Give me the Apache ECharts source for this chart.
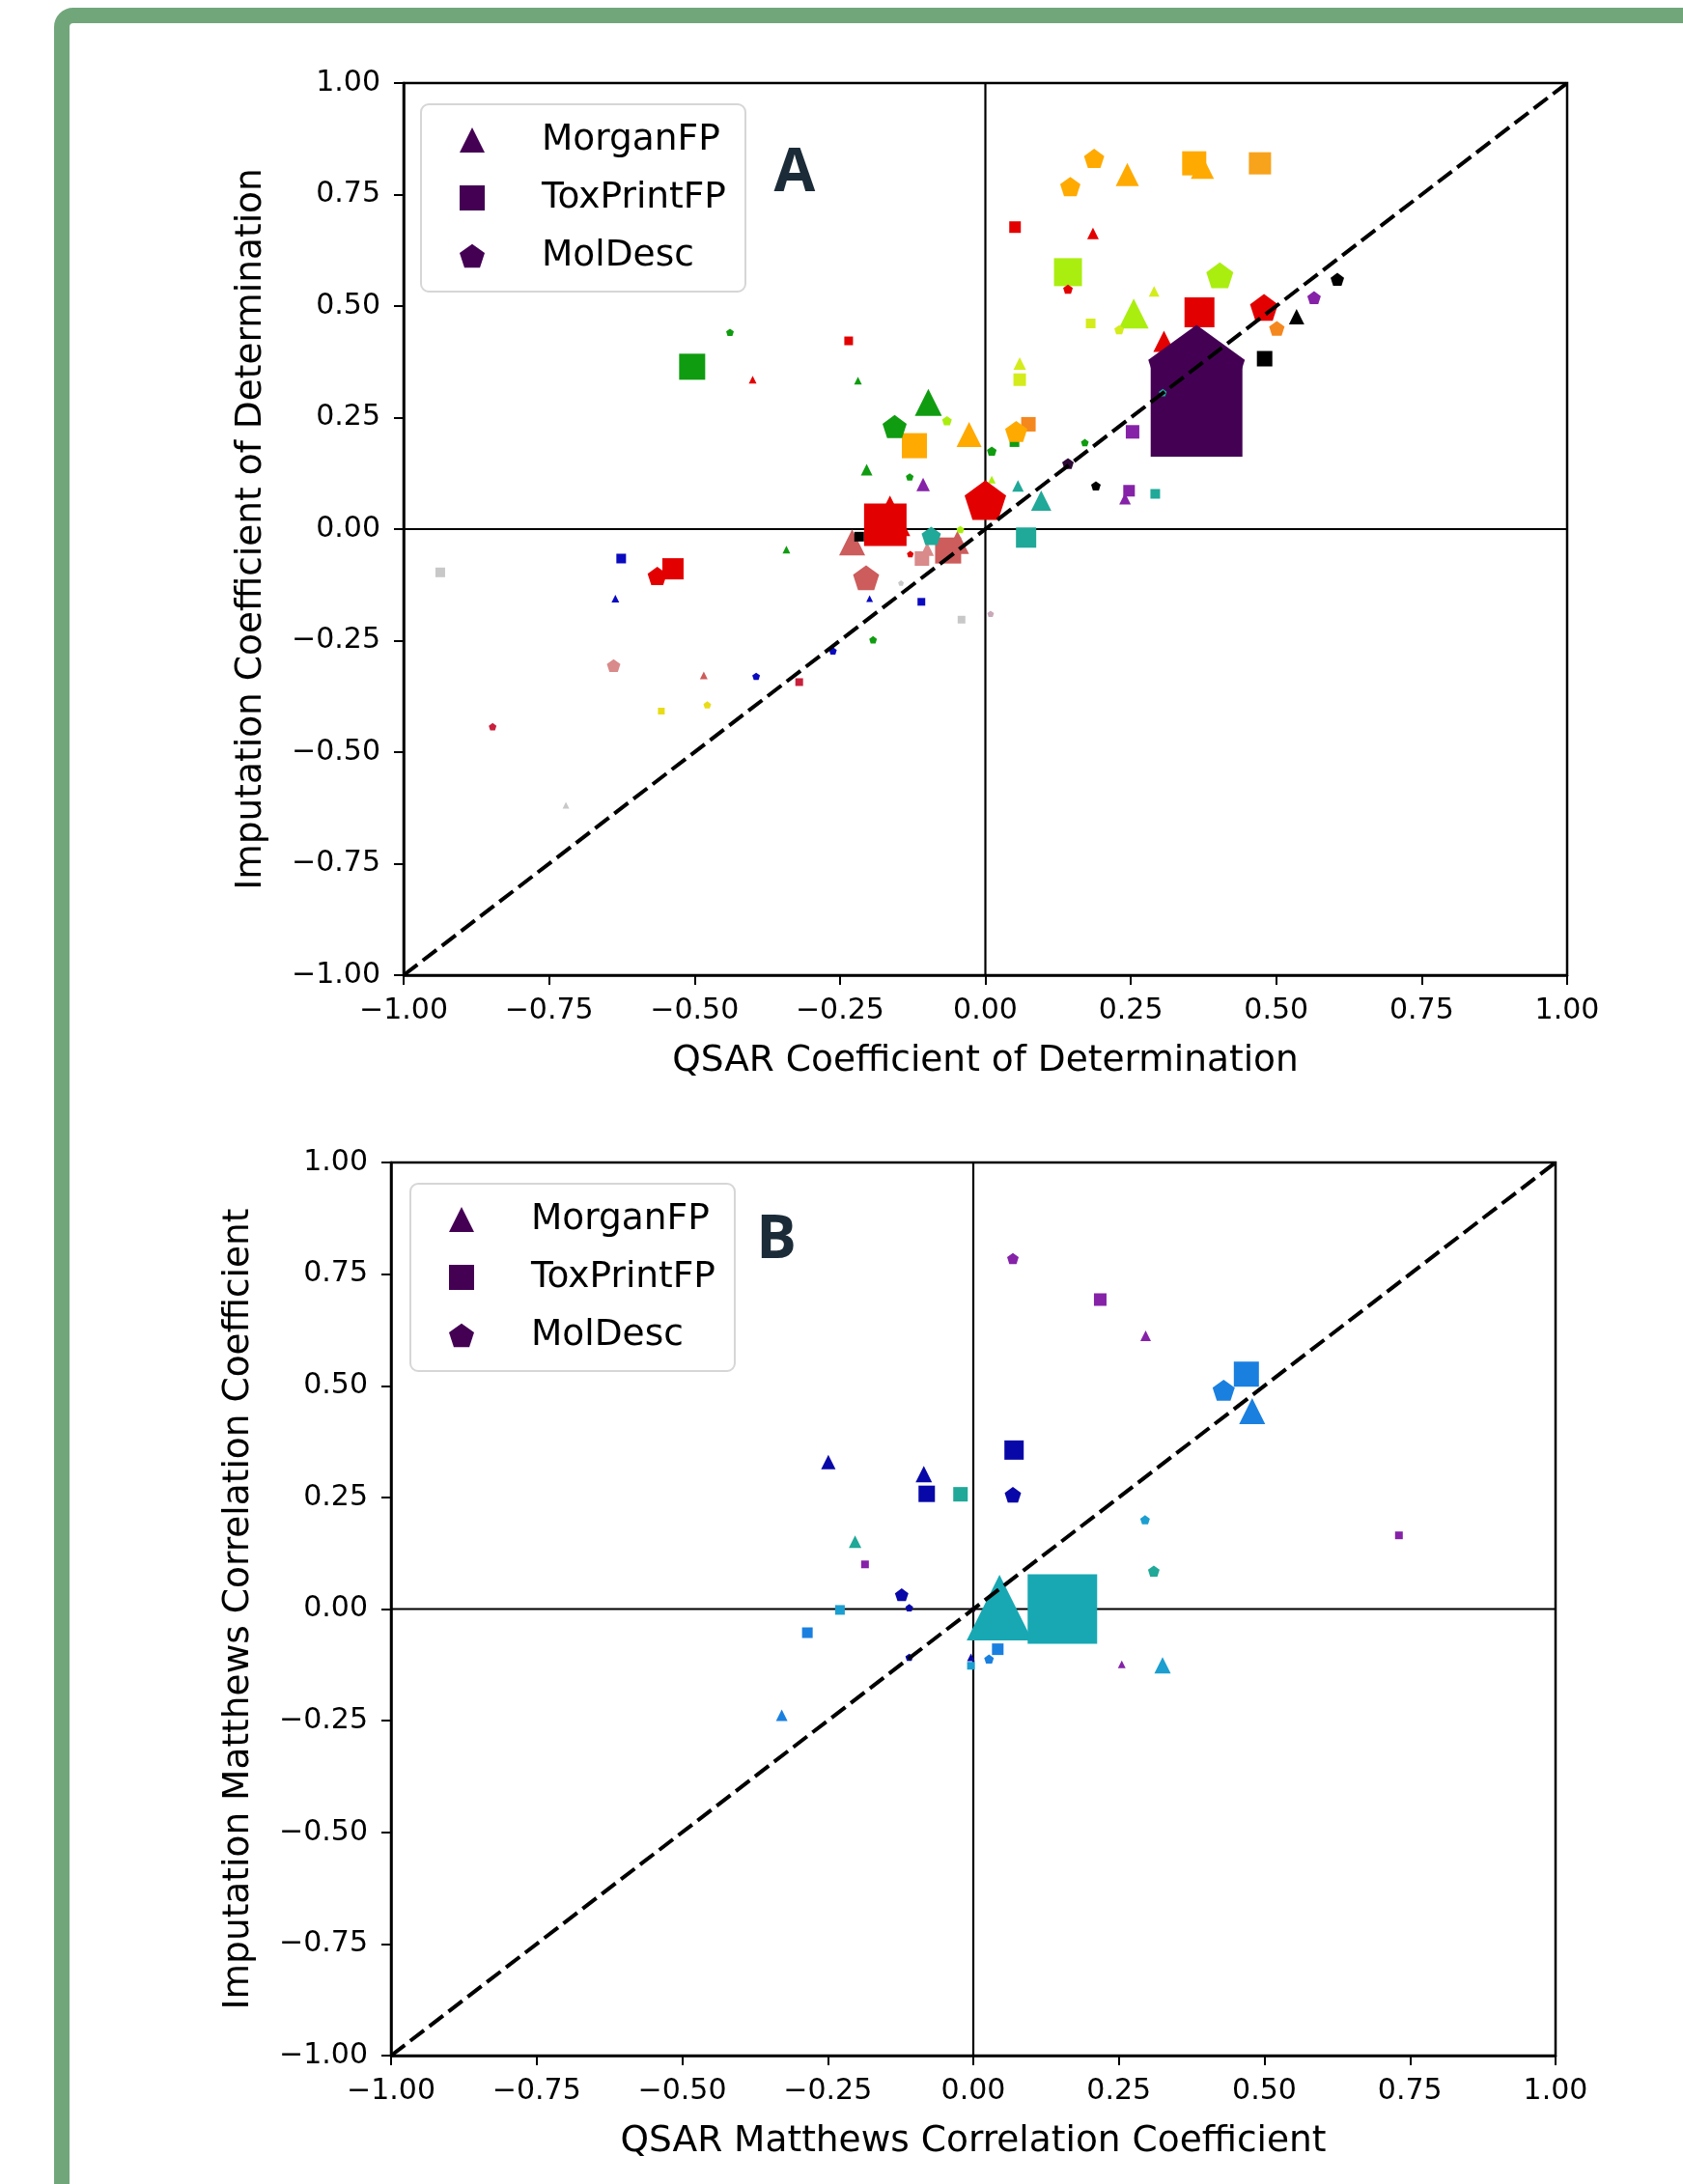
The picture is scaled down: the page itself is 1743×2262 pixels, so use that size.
<!DOCTYPE html>
<html><head><meta charset="utf-8">
<script src="https://cdn.jsdelivr.net/npm/echarts@6/dist/echarts.min.js"></script>
<style>html,body{margin:0;padding:0;background:#fff}#c{width:1743px;height:2262px}</style>
</head><body><div id="c"></div>
<script>
// ---------- data ----------
const tickValues = [-1, -0.75, -0.5, -0.25, 0, 0.25, 0.5, 0.75, 1];
const tickLabels = ['\u22121.00', '\u22120.75', '\u22120.50', '\u22120.25', '0.00', '0.25', '0.50', '0.75', '1.00'];
const legendNames = ['MorganFP', 'ToxPrintFP', 'MolDesc'];
const panelLetters = ['A', 'B'];
const xTitles = ['QSAR Coefficient of Determination', 'QSAR Matthews Correlation Coefficient'];
const yTitles = ['Imputation Coefficient of Determination', 'Imputation Matthews Correlation Coefficient'];

// [QSAR value, imputation value, marker weight, category]
const A_MorganFP = [
  [-0.400, 0.335, 8, 'red'], [-0.219, 0.333, 8, 'green'], [-0.098, 0.284, 28, 'green'],
  [-0.028, 0.212, 26, 'orange'], [-0.204, 0.133, 12, 'green'], [-0.107, 0.100, 14, 'purple'],
  [-0.164, 0.030, 42, 'red'], [-0.229, -0.030, 27, 'indianred'], [-0.048, -0.030, 24, 'indianred'],
  [-0.100, -0.045, 14, 'lightcoral'],
  [0.059, 0.371, 13, 'yellowlime'], [0.056, 0.097, 12, 'teal'], [0.096, 0.064, 21, 'teal'],
  [0.011, 0.111, 8, 'lime'], [0.244, 0.795, 24, 'orange'], [0.373, 0.811, 24, 'orange'],
  [0.185, 0.663, 12, 'red'], [0.290, 0.533, 11, 'yellowlime'], [0.255, 0.483, 31, 'lime'],
  [0.535, 0.476, 16, 'black'], [0.307, 0.421, 22, 'red'], [0.240, 0.068, 12, 'purple'],
  [-0.636, -0.156, 8, 'blue'], [-0.484, -0.328, 8, 'indianred'], [-0.342, -0.046, 8, 'green'],
  [-0.199, -0.156, 7, 'blue'], [-0.721, -0.619, 7, 'lightgray']
];
const A_ToxPrintFP = [
  [-0.235, 0.422, 9, 'red'], [-0.504, 0.364, 27, 'green'], [-0.122, 0.187, 26, 'orange'],
  [-0.172, 0.010, 44, 'red'], [-0.217, -0.017, 10, 'black'], [-0.064, -0.048, 27, 'indianred'],
  [-0.109, -0.066, 15, 'lightcoral'], [-0.110, -0.163, 8, 'blue'], [-0.041, -0.203, 8, 'lightgray'],
  [0.059, 0.335, 13, 'yellowlime'], [0.074, 0.235, 15, 'darkorange'], [0.050, 0.195, 10, 'green'],
  [0.070, -0.019, 21, 'teal'], [0.359, 0.820, 25, 'orange'], [0.472, 0.820, 23, 'orange2'],
  [0.051, 0.677, 12, 'red'], [0.142, 0.576, 29, 'lime'], [0.368, 0.486, 31, 'red'],
  [0.181, 0.461, 10, 'yellowlime'], [0.480, 0.382, 16, 'black'], [0.363, 0.265, 95, 'darkpurple'],
  [0.253, 0.218, 14, 'purple'], [0.247, 0.086, 12, 'purple'], [0.292, 0.079, 10, 'teal'],
  [-0.937, -0.097, 10, 'lightgray'], [-0.626, -0.066, 10, 'blue'], [-0.537, -0.089, 22, 'red'],
  [-0.320, -0.343, 8, 'crimson'], [-0.557, -0.408, 7, 'yellow']
];
const A_MolDesc = [
  [-0.439, 0.441, 8, 'green'], [-0.066, 0.243, 10, 'lime'], [-0.156, 0.230, 25, 'green'],
  [-0.130, 0.117, 8, 'green'], [0.011, 0.175, 10, 'green'], [0.000, 0.065, 43, 'red'],
  [-0.093, -0.015, 20, 'teal'], [-0.043, -0.001, 8, 'lime'], [-0.129, -0.056, 7, 'red'],
  [-0.205, -0.109, 27, 'indianred'], [-0.145, -0.121, 6, 'lightgray'], [0.009, -0.190, 7, 'thistle'],
  [-0.193, -0.248, 8, 'green'], [-0.262, -0.273, 8, 'blue'], [0.053, 0.219, 23, 'orange'],
  [0.171, 0.194, 8, 'green'], [0.142, 0.147, 12, 'darkpurple2'], [0.190, 0.097, 10, 'black'],
  [0.187, 0.831, 21, 'orange'], [0.146, 0.768, 21, 'orange'], [0.142, 0.538, 10, 'red'],
  [0.403, 0.569, 28, 'lime'], [0.605, 0.560, 14, 'black'], [0.565, 0.519, 14, 'purple'],
  [0.479, 0.497, 29, 'red'], [0.230, 0.447, 10, 'yellowlime'], [0.501, 0.450, 16, 'darkorange'],
  [0.363, 0.355, 100, 'darkpurple'], [0.305, 0.306, 8, 'teal'], [-0.564, -0.105, 20, 'red'],
  [-0.639, -0.306, 14, 'lightcoral'], [-0.394, -0.330, 8, 'blue'], [-0.478, -0.394, 8, 'yellow'],
  [-0.847, -0.443, 8, 'crimson']
];
const B_MorganFP = [
  [0.296, 0.612, 11, 'purple'], [0.479, 0.443, 27, 'dodger'], [0.045, 0.003, 68, 'tealcyan'],
  [-0.004, -0.108, 8, 'navy'], [0.255, -0.124, 8, 'purple'], [0.325, -0.126, 17, 'cyan'],
  [-0.249, 0.329, 15, 'navy'], [-0.085, 0.302, 17, 'navy'], [-0.203, 0.151, 13, 'teal'],
  [-0.329, -0.238, 12, 'dodger']
];
const B_ToxPrintFP = [
  [0.218, 0.693, 13, 'purple'], [0.469, 0.526, 26, 'dodger'], [0.070, 0.356, 20, 'navy'],
  [0.731, 0.165, 8, 'purple'], [0.153, 0.000, 72, 'tealcyan'], [0.042, -0.090, 12, 'dodger'],
  [-0.004, -0.127, 8, 'cyan'], [-0.080, 0.258, 17, 'navy'], [-0.022, 0.257, 15, 'teal'],
  [-0.186, 0.100, 8, 'purple'], [-0.229, -0.002, 10, 'cyan'], [-0.285, -0.053, 11, 'dodger']
];
const B_MolDesc = [
  [0.068, 0.785, 12, 'purple'], [0.430, 0.490, 23, 'dodger'], [0.068, 0.256, 17, 'navy'],
  [0.295, 0.200, 10, 'cyan'], [0.310, 0.085, 12, 'teal'], [0.027, -0.112, 10, 'dodger'],
  [-0.123, 0.032, 14, 'navy'], [-0.110, 0.003, 8, 'navy'], [-0.110, -0.108, 8, 'navy'],
  [0.000, 0.000, 6, 'darkpurple']
];
const diagonal = [[-1, -1], [1, 1]];
const zeroH = [[-1, 0], [1, 0]];
const zeroV = [[0, -1], [0, 1]];

// ---------- styles ----------
const palette = {
  red: '#e30000', green: '#109c10', orange: '#ffaa00', orange2: '#f8a31c', darkorange: '#f5871f',
  lime: '#aaee10', yellowlime: '#d4ec1c', yellow: '#e8dc18', teal: '#20a898', indianred: '#cd5c5c',
  lightcoral: '#d98a8a', blue: '#0a0ac0', black: '#000000', purple: '#8522a8', darkpurple: '#440154',
  darkpurple2: '#2e0a36', lightgray: '#c8c8c8', thistle: '#c9a9b9', crimson: '#c8203c',
  dodger: '#1a80e0', navy: '#0808a8', cyan: '#1b9ed0', tealcyan: '#17a8b3'
};
const PENT = 'path://M100,0 L195.1,69.1 L158.8,180.9 L41.2,180.9 L4.9,69.1 Z';
const symbols = ['triangle', 'rect', PENT];
const FONT = 'DejaVu Sans';
const grids = [
  { left: 418, top: 86, width: 1205, height: 924 },
  { left: 405, top: 1204, width: 1206, height: 925 }
];
const legendPos = [{ left: 436, top: 108 }, { left: 425, top: 1226 }];
const letterPos = [[823, 180], [804, 1285]];

function fmt(v) {
  const i = tickValues.findIndex(t => Math.abs(t - v) < 1e-9);
  return i >= 0 ? tickLabels[i] : v.toFixed(2).replace('-', '\u2212');
}

const xAxes = [], yAxes = [], series = [], legends = [], graphics = [];
const panels = [[A_MorganFP, A_ToxPrintFP, A_MolDesc], [B_MorganFP, B_ToxPrintFP, B_MolDesc]];

panels.forEach((sets, g) => {
  const common = {
    type: 'value', gridIndex: g, min: -1, max: 1, interval: 0.25,
    nameLocation: 'middle',
    nameTextStyle: { fontFamily: FONT, fontSize: 37.5, color: '#000' },
    axisLine: { show: true, onZero: false, lineStyle: { color: '#000', width: 2.5 } },
    axisTick: { show: true, inside: false, length: 10, lineStyle: { color: '#000', width: 2 } },
    axisLabel: { fontFamily: FONT, fontSize: 30, color: '#000', formatter: fmt, showMinLabel: true, showMaxLabel: true },
    splitLine: { show: false }
  };
  xAxes.push(Object.assign({}, common, {
    position: 'bottom', name: xTitles[g], nameGap: 70,
    axisLabel: Object.assign({}, common.axisLabel, { margin: 22 })
  }));
  yAxes.push(Object.assign({}, common, {
    position: 'left', name: yTitles[g], nameGap: 139, nameRotate: 90,
    axisLabel: Object.assign({}, common.axisLabel, { margin: 24 })
  }));
  [zeroH, zeroV].forEach(d => series.push({
    type: 'line', xAxisIndex: g, yAxisIndex: g, data: d, symbol: 'none', silent: true, z: 1,
    lineStyle: { color: '#000', width: 2.2 }
  }));
  sets.forEach((arr, k) => series.push({
    name: legendNames[k], type: 'scatter', xAxisIndex: g, yAxisIndex: g,
    symbol: symbols[k], symbolKeepAspect: true, silent: true, z: 2,
    itemStyle: { color: '#440154', opacity: 1 },
    data: arr.map(d => ({ value: [d[0], d[1], d[2]], symbolSize: d[2], itemStyle: { color: palette[d[3]], opacity: 1 } }))
  }));
  series.push({
    type: 'line', xAxisIndex: g, yAxisIndex: g, data: diagonal, symbol: 'none', silent: true, z: 5,
    lineStyle: { color: '#000', width: 4, type: [18, 7] }
  });
  legends.push({
    data: legendNames.map(n => ({ name: n, itemStyle: { color: '#440154' } })),
    orient: 'vertical', left: legendPos[g].left, top: legendPos[g].top,
    padding: [17, 20, 17, 40], itemGap: 20, itemWidth: 26, itemHeight: 26,
    backgroundColor: 'rgba(255,255,255,0.85)', borderColor: '#d6d6d6', borderWidth: 2, borderRadius: 8,
    selectedMode: false,
    textStyle: { fontFamily: FONT, fontSize: 37.5, color: '#000', padding: [0, 0, 0, 54], lineHeight: 40 }
  });
  graphics.push({
    type: 'text', x: letterPos[g][0], y: letterPos[g][1], z: 10,
    style: { text: panelLetters[g], font: 'bold 62px "Open Sans"', fill: '#1b2b38', textAlign: 'center', textVerticalAlign: 'middle' }
  });
});

graphics.push({
  type: 'rect', z: 0, shape: { x: 64, y: 16, width: 1760, height: 2400, r: 12 },
  style: { fill: 'none', stroke: '#71a67b', lineWidth: 16 }
});

const chart = echarts.init(document.getElementById('c'), null, { renderer: 'canvas' });
chart.setOption({
  animation: false,
  backgroundColor: '#ffffff',
  grid: grids.map(gr => Object.assign({ show: true, borderColor: '#000', borderWidth: 2.5, backgroundColor: '#fff' }, gr)),
  xAxis: xAxes, yAxis: yAxes, series, legend: legends, graphic: graphics
});
</script></body></html>
